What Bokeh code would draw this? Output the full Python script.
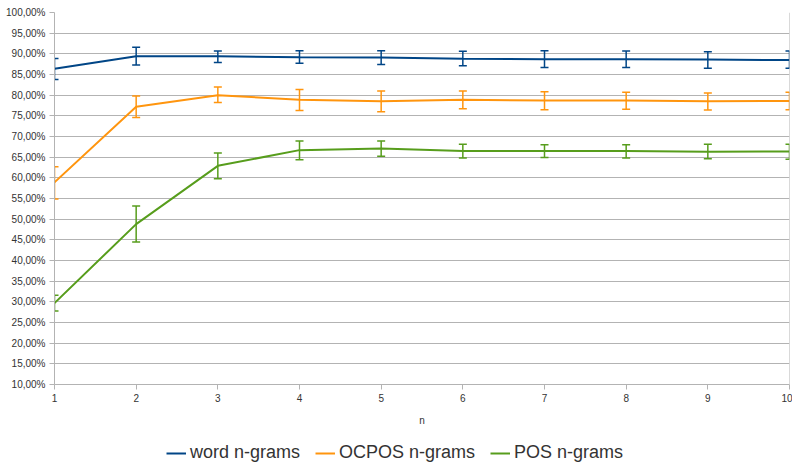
from bokeh.plotting import figure
from bokeh.models import (ColumnDataSource, Whisker, TeeHead, Legend, LegendItem,
                          FixedTicker, Range1d, CustomJSTickFormatter, Span)
from bokeh.layouts import column
from bokeh.embed import file_html
from bokeh.resources import INLINE

n = [1, 2, 3, 4, 5, 6, 7, 8, 9, 10]
word = [86.4, 89.4, 89.4, 89.2, 89.1, 88.8, 88.7, 88.7, 88.6, 88.5]
word_lo = [83.8, 87.3, 87.9, 87.7, 87.4, 87.1, 86.7, 86.7, 86.5, 86.5]
word_hi = [88.9, 91.6, 90.7, 90.75, 90.75, 90.6, 90.75, 90.7, 90.5, 90.7]
ocpos = [58.9, 77.2, 80.0, 78.9, 78.5, 78.9, 78.7, 78.7, 78.5, 78.6]
ocpos_lo = [54.9, 74.6, 78.2, 76.3, 76.0, 76.7, 76.5, 76.6, 76.4, 76.5]
ocpos_hi = [62.7, 79.8, 82.0, 81.4, 81.0, 81.0, 80.8, 80.7, 80.5, 80.7]
pos = [29.7, 48.8, 62.9, 66.7, 67.1, 66.5, 66.5, 66.5, 66.3, 66.4]
pos_lo = [27.8, 44.5, 59.8, 64.4, 65.2, 64.8, 64.9, 64.8, 64.6, 64.5]
pos_hi = [31.6, 53.2, 66.0, 68.9, 68.9, 68.1, 68.0, 68.0, 68.1, 68.1]
y_ticks = [10, 15, 20, 25, 30, 35, 40, 45, 50, 55, 60, 65, 70, 75, 80, 85, 90, 95, 100]
series_names = ["word n-grams", "OCPOS n-grams", "POS n-grams"]
colors = ["#004586", "#ff950e", "#579d1c"]

FONT = "Liberation Sans"

p = figure(width=792, height=428, output_backend="svg", toolbar_location=None,
           x_range=Range1d(n[0], n[-1]), y_range=Range1d(y_ticks[0], y_ticks[-1]),
           min_border_left=54, min_border_right=3, min_border_top=12, min_border_bottom=43)
p.outline_line_color = None
p.background_fill_color = "white"

# axes
p.yaxis.ticker = FixedTicker(ticks=y_ticks)
p.xaxis.ticker = FixedTicker(ticks=n)
p.yaxis.formatter = CustomJSTickFormatter(code="return tick.toFixed(2).replace('.', ',') + '%';")
for ax in (p.xaxis[0], p.yaxis[0]):
    ax.axis_line_color = "#b3b3b3"
    ax.major_tick_line_color = "#b3b3b3"
    ax.major_tick_out = 5
    ax.major_tick_in = 0
    ax.minor_tick_line_color = None
    ax.major_label_text_font = FONT
    ax.major_label_text_font_size = "10px"
    ax.major_label_text_color = "#333333"
    ax.major_label_standoff = 4
p.xaxis.major_label_standoff = 4
p.xaxis.axis_label = "n"
p.xaxis.axis_label_text_font = FONT
p.xaxis.axis_label_text_font_size = "10px"
p.xaxis.axis_label_text_font_style = "normal"
p.xaxis.axis_label_text_color = "#333333"
p.xaxis.axis_label_standoff = 10
p.xgrid.grid_line_color = None
p.ygrid.grid_line_color = "#b3b3b3"
p.ygrid.grid_line_width = 1

p.add_layout(Span(location=n[-1], dimension="height", line_color="#b3b3b3", line_width=1))

for name, vals, lo, hi, c in zip(series_names, [word, ocpos, pos],
                                 [word_lo, ocpos_lo, pos_lo],
                                 [word_hi, ocpos_hi, pos_hi], colors):
    src = ColumnDataSource(dict(x=n, y=vals, lo=lo, hi=hi))
    p.line("x", "y", source=src, line_color=c, line_width=2)
    w = Whisker(base="x", upper="hi", lower="lo", source=src, line_color=c, line_width=1.5,
                upper_head=TeeHead(size=8, line_color=c, line_width=1.5),
                lower_head=TeeHead(size=8, line_color=c, line_width=1.5))
    p.add_layout(w)

# legend strip below the chart (legend-only renderers hold no visible data)
lg = figure(width=792, height=35, output_backend="svg", toolbar_location=None,
            x_axis_location=None, y_axis_location=None,
            x_range=Range1d(0, 1), y_range=Range1d(0, 1),
            min_border_left=0, min_border_right=0, min_border_top=0, min_border_bottom=0)
lg.outline_line_color = None
lg.xgrid.grid_line_color = None
lg.ygrid.grid_line_color = None
items = []
for name, c in zip(series_names, colors):
    r = lg.line(x=[float("nan")], y=[float("nan")], line_color=c, line_width=2)
    items.append(LegendItem(label=name, renderers=[r]))
legend = Legend(items=items, orientation="horizontal", location=(112, 0),
                label_text_font=FONT, label_text_font_size="18px", label_text_color="#333333",
                glyph_width=20, glyph_height=20, label_standoff=4, spacing=15,
                padding=0, margin=0, border_line_color=None, background_fill_alpha=0)
lg.add_layout(legend, "center")

layout = column(p, lg, spacing=0)
open("out.html", "w").write(file_html(layout, INLINE))
